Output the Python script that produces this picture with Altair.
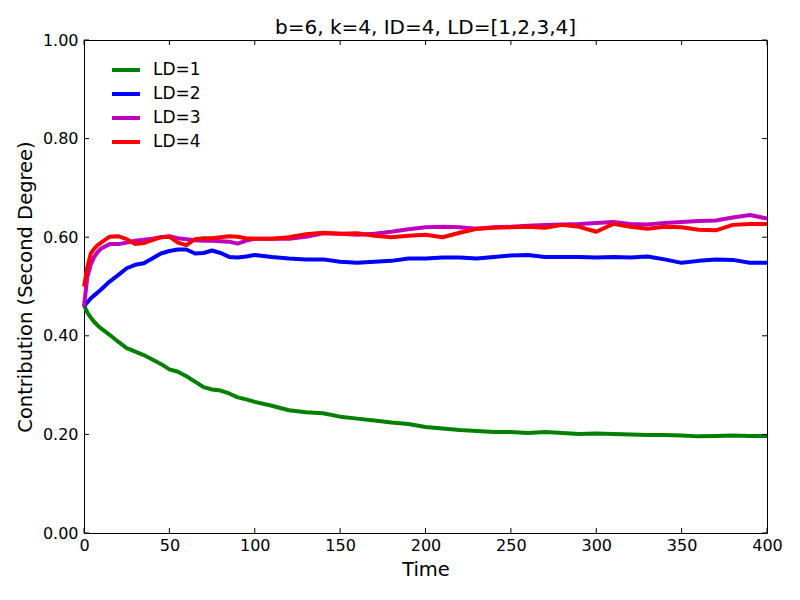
import altair as alt
import pandas as pd

TIME = [0, 2, 4, 6, 8, 10,
        15, 20, 25, 30, 35, 40, 45, 50, 55, 60, 65, 70, 75, 80, 85, 90, 95, 100,
        110, 120, 130, 140, 150, 160, 170, 180, 190, 200, 210, 220, 230, 240, 250,
        260, 270, 280, 290, 300, 310, 320, 330, 340, 350, 360, 370, 380, 390, 400]

LD1 = [0.462, 0.447, 0.437, 0.428, 0.421, 0.415,
       0.402, 0.388, 0.375, 0.368, 0.361, 0.352, 0.343, 0.332, 0.327, 0.318, 0.307, 0.296, 0.291, 0.289, 0.283, 0.275, 0.271, 0.266,
       0.258, 0.249, 0.245, 0.243, 0.236, 0.232, 0.228, 0.224, 0.221, 0.215, 0.212, 0.209, 0.207, 0.205, 0.205,
       0.203, 0.205, 0.203, 0.201, 0.202, 0.201, 0.200, 0.199, 0.199, 0.198, 0.196, 0.197, 0.198, 0.197, 0.197]

LD2 = [0.460, 0.468, 0.476, 0.482, 0.488, 0.494,
       0.510, 0.523, 0.537, 0.544, 0.547, 0.557, 0.567, 0.572, 0.575, 0.575, 0.567, 0.568, 0.573, 0.568, 0.560, 0.559, 0.561, 0.564,
       0.560, 0.557, 0.555, 0.555, 0.550, 0.548, 0.550, 0.552, 0.557, 0.557, 0.559, 0.559, 0.557, 0.560, 0.563,
       0.564, 0.560, 0.560, 0.560, 0.559, 0.560, 0.559, 0.561, 0.555, 0.548, 0.552, 0.555, 0.554, 0.548, 0.548]

LD3 = [0.460, 0.520, 0.545, 0.560, 0.570, 0.577,
       0.586, 0.586, 0.589, 0.593, 0.595, 0.597, 0.600, 0.602, 0.598, 0.596, 0.594, 0.593, 0.593, 0.592, 0.591, 0.587, 0.593, 0.597,
       0.597, 0.597, 0.601, 0.608, 0.607, 0.605, 0.607, 0.611, 0.616, 0.620, 0.621, 0.620, 0.617, 0.620, 0.621,
       0.623, 0.625, 0.626, 0.627, 0.629, 0.631, 0.627, 0.626, 0.629, 0.631, 0.633, 0.634, 0.640, 0.645, 0.638]

LD4 = [0.500, 0.540, 0.567, 0.577, 0.584, 0.589,
       0.601, 0.602, 0.596, 0.586, 0.588, 0.594, 0.600, 0.601, 0.589, 0.584, 0.596, 0.598, 0.598, 0.600, 0.602, 0.601, 0.598, 0.597,
       0.597, 0.600, 0.606, 0.609, 0.607, 0.608, 0.603, 0.600, 0.603, 0.605, 0.600, 0.609, 0.617, 0.619, 0.620,
       0.621, 0.619, 0.625, 0.621, 0.611, 0.627, 0.621, 0.617, 0.621, 0.620, 0.615, 0.614, 0.625, 0.627, 0.627]

SERIES = ["LD=1", "LD=2", "LD=3", "LD=4"]
COLORS = ["#008000", "#0000ff", "#bf00bf", "#ff0000"]
X_TICKS = [0, 50, 100, 150, 200, 250, 300, 350, 400]
Y_TICKS = [0.0, 0.2, 0.4, 0.6, 0.8, 1.0]
TITLE = "b=6, k=4, ID=4, LD=[1,2,3,4]"
X_TITLE = "Time"
Y_TITLE = "Contribution (Second Degree)"

rows = []
for k, (name, vals) in enumerate(zip(SERIES, [LD1, LD2, LD3, LD4])):
    for t, v in zip(TIME, vals):
        rows.append({"Time": t, "value": v, "series": name, "k": k})
df = pd.DataFrame(rows)

W, H = 683, 493
TL = 5
FONT = "DejaVu Sans"

xs = alt.Scale(domain=[0, 400], nice=False, zero=False)
ys = alt.Scale(domain=[0, 1], nice=False, zero=False)

AX = alt.Axis(title=X_TITLE, values=X_TICKS, format="d", ticks=False,
              domain=False, grid=False, labelPadding=4, titlePadding=7,
              labelFlush=False, labelOverlap=False)
AY = alt.Axis(title=Y_TITLE, values=Y_TICKS, format=".2f", ticks=False,
              domain=False, grid=False, labelPadding=6, titlePadding=7,
              labelFlush=False, labelOverlap=False)

lines = alt.Chart(df).mark_line(strokeWidth=4, strokeJoin="round").encode(
    x=alt.X("Time:Q", scale=xs, axis=AX),
    y=alt.Y("value:Q", scale=ys, axis=AY),
    color=alt.Color("series:N",
                    scale=alt.Scale(domain=SERIES, range=COLORS),
                    legend=alt.Legend(title=None, orient="none", legendX=26, legendY=14,
                                      symbolType="stroke", symbolSize=784,
                                      symbolStrokeWidth=4, labelFontSize=17,
                                      labelFont=FONT, labelColor="black",
                                      labelOffset=11, rowPadding=-10, padding=0)),
    detail="k:O",
)

xt = pd.DataFrame({"xt": X_TICKS})
yt = pd.DataFrame({"yt": Y_TICKS})

tick_style = dict(color="black", strokeWidth=1)
xb = alt.Chart(xt).mark_rule(**tick_style).encode(
    x=alt.X("xt:Q", scale=xs, axis=AX), y=alt.value(H), y2=alt.value(H - TL))
xtp = alt.Chart(xt).mark_rule(**tick_style).encode(
    x=alt.X("xt:Q", scale=xs, axis=AX), y=alt.value(0), y2=alt.value(TL))
yl = alt.Chart(yt).mark_rule(**tick_style).encode(
    y=alt.Y("yt:Q", scale=ys, axis=AY), x=alt.value(0), x2=alt.value(TL))
yr = alt.Chart(yt).mark_rule(**tick_style).encode(
    y=alt.Y("yt:Q", scale=ys, axis=AY), x=alt.value(W), x2=alt.value(W - TL))

chart = alt.layer(lines, xb, xtp, yl, yr).properties(
    width=W, height=H,
    title=alt.Title(TITLE, font=FONT, fontSize=20, fontWeight="normal",
                    color="black", anchor="middle", offset=-6),
    autosize=alt.AutoSizeParams(type="none"),
    padding={"left": 76, "top": 32, "right": 25, "bottom": 59},
    background="white",
).configure_view(
    stroke="black", strokeWidth=1
).configure_axis(
    labelFont=FONT, labelFontSize=16, labelColor="black",
    titleFont=FONT, titleFontSize=19.5, titleFontWeight="normal", titleColor="black",
)

chart.save("out.html", embed_options={"renderer": "svg", "actions": False})
